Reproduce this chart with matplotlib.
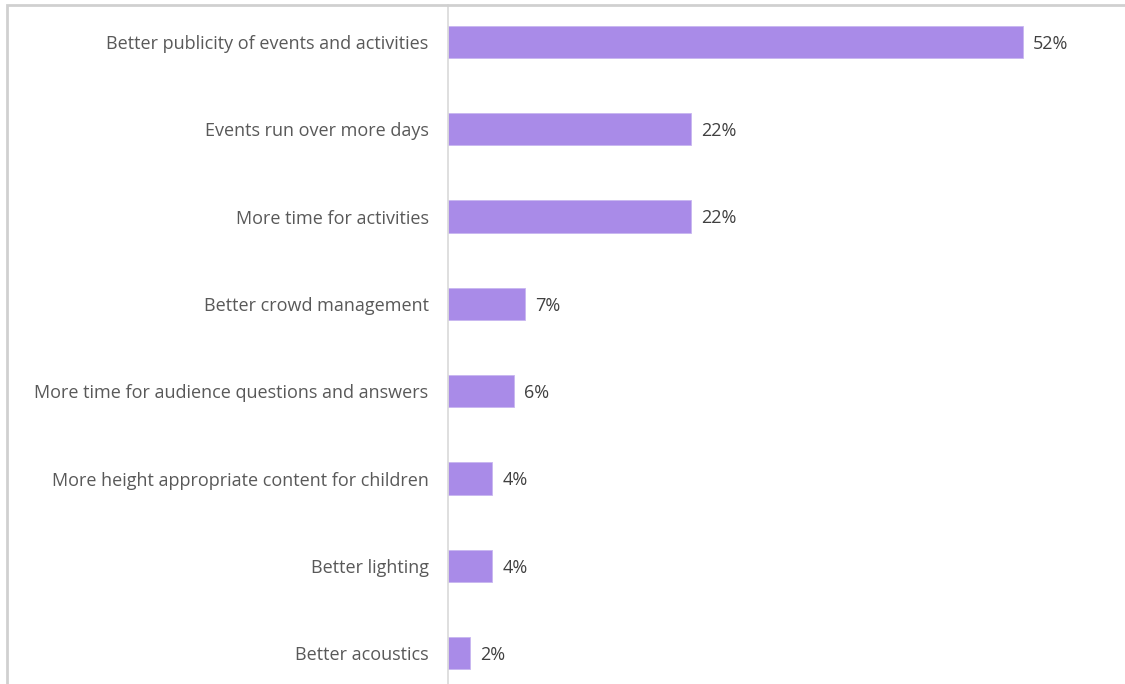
import matplotlib.pyplot as plt
from matplotlib.patches import Rectangle

# survey answers, top to bottom
labels = [
    "Better publicity of events and activities",
    "Events run over more days",
    "More time for activities",
    "Better crowd management",
    "More time for audience questions and answers",
    "More height appropriate content for children",
    "Better lighting",
    "Better acoustics",
]
pct = [52, 22, 22, 7, 6, 4, 4, 2]

plt.rcParams['font.family'] = ['Open Sans', 'DejaVu Sans']

fig = plt.figure(figsize=(11.25, 6.84), dpi=100)
ax = fig.add_axes([448 / 1125, 0, 1 - 448 / 1125, 679 / 684])

pos = list(range(len(labels)))
ax.barh(pos, pct, height=0.37, color='#A98BE8', edgecolor='#C8B6F0', linewidth=0.6)

for p, v in zip(pos, pct):
    ax.text(v + 0.9, p + 0.02, f"{v}%", va='center', ha='left', fontsize=13, color='#404040')

ax.set_yticks(pos)
ax.set_yticklabels(labels, fontsize=13, color='#595959')
ax.tick_params(axis='y', length=0, pad=14)
ax.set_xticks([])
ax.set_xlim(0, 61.2)
ax.set_ylim(7.354, -0.424)

for s in ['top', 'right', 'bottom']:
    ax.spines[s].set_visible(False)
ax.spines['left'].set_color('#D9D9D9')
ax.spines['left'].set_linewidth(1.2)

# chart frame (left and top edges visible)
fig.patches.append(Rectangle((6.5 / 1125, -0.1), 1.2, (684 - 5.5) / 684 + 0.1,
                             transform=fig.transFigure, fill=False,
                             edgecolor='#D0D0D0', linewidth=2))

fig.savefig('out.png', dpi=100)
